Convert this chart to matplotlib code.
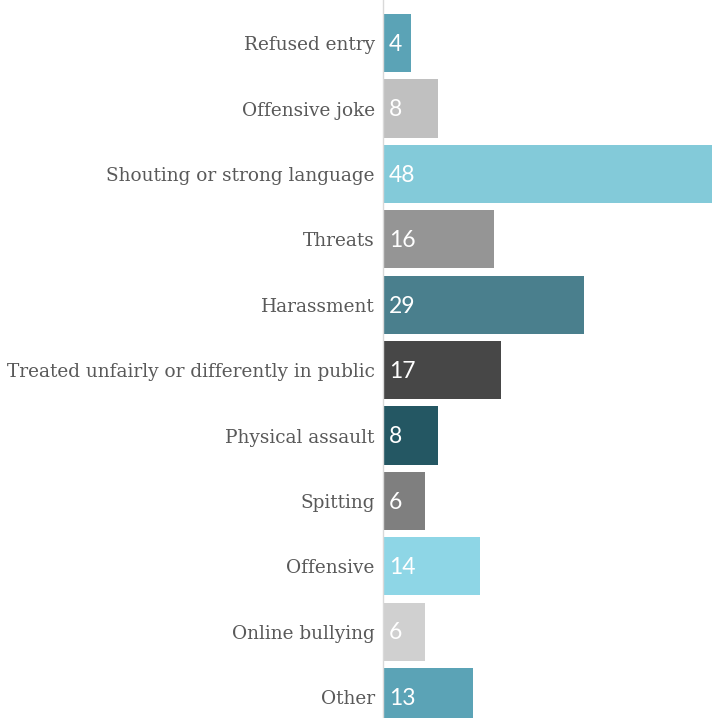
import matplotlib
matplotlib.use("Agg")
from matplotlib import pyplot as plt

categories = [
    "Refused entry",
    "Offensive joke",
    "Shouting or strong language",
    "Threats",
    "Harassment",
    "Treated unfairly or differently in public",
    "Physical assault",
    "Spitting",
    "Offensive",
    "Online bullying",
    "Other",
]
values = [4, 8, 48, 16, 29, 17, 8, 6, 14, 6, 13]
colors = [
    "#5ba3b6", "#c0c0c0", "#83cad9", "#959595", "#4a7f8d", "#474747",
    "#245763", "#7f7f7f", "#8ed6e6", "#d0d0d0", "#5ba3b6",
]

fig = plt.figure(figsize=(7.12, 7.18), dpi=100)
ax = fig.add_axes([383 / 712, 0, 1 - 383 / 712, 1])

ypos = list(range(len(categories)))
ax.barh(ypos, values, height=0.89, color=colors)

ax.set_xlim(0, 47.5)
ax.set_ylim(10.32, -0.66)

for y, v in zip(ypos, values):
    ax.text(0.85, y + 0.02, str(v), va="center", ha="left", color="white",
            fontsize=16.5, family=["Lato", "DejaVu Sans"])

ax.set_yticks(ypos)
ax.set_yticklabels(categories, family=["DejaVu Serif"], fontsize=13.3, color="#595959")
ax.tick_params(axis="y", length=0, pad=6)
ax.set_xticks([])

for side in ["top", "right", "bottom"]:
    ax.spines[side].set_visible(False)
ax.spines["left"].set_color("#d9d9d9")
ax.spines["left"].set_linewidth(1.0)

fig.savefig("out.png", dpi=100)
